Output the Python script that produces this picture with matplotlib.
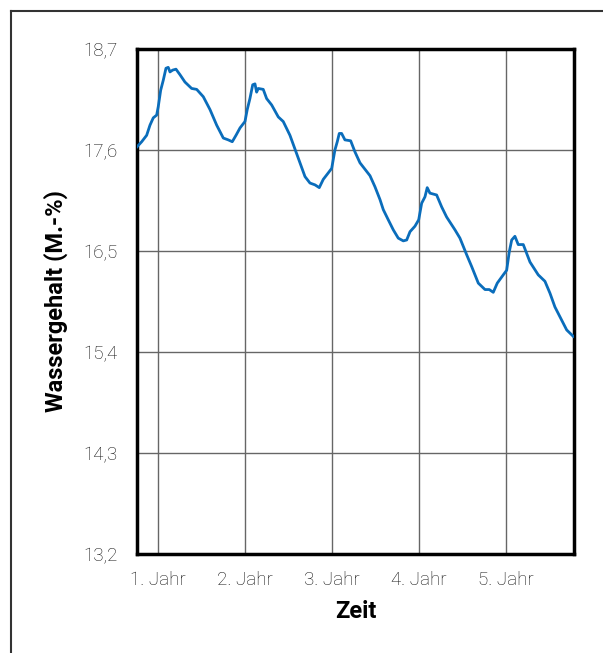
import numpy as np
import matplotlib.pyplot as plt
from matplotlib.lines import Line2D

# Zeit in Jahren, Wassergehalt in M.-%
zeit = [0.755, 0.813, 0.870, 0.908, 0.946, 0.985, 1.003, 1.031, 1.061, 1.092,
        1.118, 1.138, 1.169, 1.207, 1.253, 1.310, 1.387, 1.445, 1.521, 1.598,
        1.675, 1.751, 1.808, 1.854, 1.897, 1.943, 2.000, 2.026, 2.057, 2.089,
        2.115, 2.134, 2.153, 2.210, 2.249, 2.307, 2.383, 2.440, 2.517, 2.594,
        2.690, 2.747, 2.805, 2.854, 2.900, 2.957, 2.997, 3.034, 3.061, 3.084,
        3.111, 3.149, 3.215, 3.264, 3.322, 3.437, 3.494, 3.552, 3.590, 3.647,
        3.705, 3.762, 3.820, 3.859, 3.897, 3.954, 3.997, 4.031, 4.069, 4.095,
        4.126, 4.203, 4.261, 4.318, 4.414, 4.471, 4.548, 4.606, 4.682, 4.759,
        4.808, 4.854, 4.900, 4.969, 5.008, 5.038, 5.066, 5.103, 5.141, 5.199,
        5.276, 5.371, 5.448, 5.506, 5.563, 5.698, 5.774]
wassergehalt = [17.63, 17.69, 17.76, 17.87, 17.95, 17.98, 18.07, 18.25, 18.36, 18.49,
                18.50, 18.45, 18.47, 18.48, 18.42, 18.34, 18.27, 18.26, 18.18, 18.04,
                17.87, 17.73, 17.71, 17.69, 17.76, 17.84, 17.91, 18.04, 18.16, 18.31,
                18.32, 18.23, 18.27, 18.26, 18.16, 18.09, 17.96, 17.91, 17.76, 17.56,
                17.31, 17.24, 17.22, 17.19, 17.28, 17.35, 17.40, 17.60, 17.69, 17.78,
                17.78, 17.71, 17.70, 17.58, 17.46, 17.32, 17.20, 17.06, 16.95, 16.84,
                16.73, 16.64, 16.61, 16.62, 16.71, 16.77, 16.84, 17.02, 17.09, 17.19,
                17.13, 17.11, 16.98, 16.87, 16.73, 16.64, 16.46, 16.33, 16.15, 16.08,
                16.08, 16.05, 16.15, 16.24, 16.29, 16.49, 16.62, 16.66, 16.57, 16.57,
                16.38, 16.24, 16.17, 16.04, 15.89, 15.64, 15.57]

x_ticks = [1, 2, 3, 4, 5]
x_labels = ["1. Jahr", "2. Jahr", "3. Jahr", "4. Jahr", "5. Jahr"]
y_ticks = [13.2, 14.3, 15.4, 16.5, 17.6, 18.7]
y_labels = ["13,2", "14,3", "15,4", "16,5", "17,6", "18,7"]

plt.rcParams["font.family"] = ["Roboto", "DejaVu Sans"]

fig = plt.figure(figsize=(6.03, 6.53), dpi=100)
ax = fig.add_axes([0.2272, 0.1516, 0.7247, 0.7734])

ax.plot(zeit, wassergehalt, color="#0a6dbb", lw=2.0, zorder=3)

ax.set_xlim(0.759, 5.782)
ax.set_ylim(13.2, 18.7)
ax.set_xticks(x_ticks)
ax.set_xticklabels(x_labels, fontsize=13.5, fontweight="light", color="#111111")
ax.set_yticks(y_ticks)
ax.set_yticklabels(y_labels, fontsize=13.5, fontweight="light", color="#111111")
ax.tick_params(axis="x", length=0, pad=12)
ax.tick_params(axis="y", length=0, pad=14)
ax.grid(True, color="#666666", lw=1.0)
ax.set_axisbelow(True)
for s in ax.spines.values():
    s.set_linewidth(2.5)
    s.set_color("black")

ax.set_xlabel("Zeit", fontsize=17, fontweight="bold", labelpad=8)
ax.set_ylabel("Wassergehalt (M.-%)", fontsize=17, fontweight="bold", labelpad=11)

# Rahmen oben und links
fig.add_artist(Line2D([11 / 603, 1], [1 - 11 / 653, 1 - 11 / 653], color="#333333", lw=1.5))
fig.add_artist(Line2D([11 / 603, 11 / 603], [0, 1 - 11 / 653], color="#333333", lw=1.5))

fig.savefig("out.png", dpi=100)
